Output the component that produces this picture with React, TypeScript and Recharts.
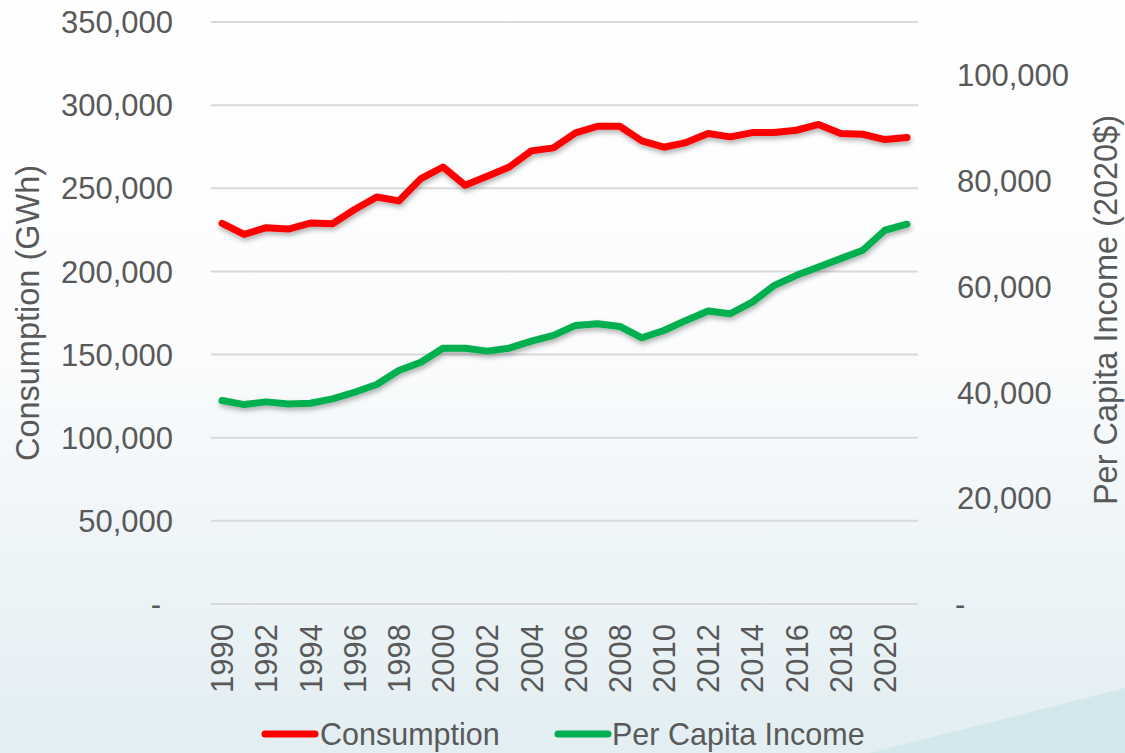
import { LineChart, Line, XAxis, YAxis, CartesianGrid } from 'recharts'

const years = [
  '1990', '1991', '1992', '1993', '1994', '1995', '1996', '1997', '1998', '1999',
  '2000', '2001', '2002', '2003', '2004', '2005', '2006', '2007', '2008', '2009',
  '2010', '2011', '2012', '2013', '2014', '2015', '2016', '2017', '2018', '2019',
  '2020', '2021',
]

// GWh
const consumption = [
  228900, 222300, 226300, 225500, 229100, 228700, 237200, 244800, 242400, 255800,
  262800, 251800, 257200, 262800, 272500, 274300, 283300, 287300, 287300, 278500,
  274700, 277500, 282900, 280900, 283500, 283500, 284900, 288400, 282900, 282500,
  279300, 280500,
]

// 2020$
const perCapitaIncome = [
  38450, 37690, 38200, 37820, 37940, 38770, 40020, 41480, 44130, 45700,
  48350, 48350, 47790, 48350, 49680, 50760, 52650, 52970, 52460, 50320,
  51700, 53600, 55360, 54860, 57060, 60230, 62120, 63700, 65280, 66860,
  70640, 71780,
]

const leftTicks = [0, 50000, 100000, 150000, 200000, 250000, 300000, 350000]
const rightTicks = [0, 20000, 40000, 60000, 80000, 100000]

const data = years.map((year, i) => ({
  year,
  consumption: consumption[i],
  income: perCapitaIncome[i],
}))

const FONT = '"Liberation Sans", Arial, sans-serif'
const TEXT = '#595959'
const RED = '#ff0000'
const GREEN = '#00b050'

const fmt = (v: number) => (v === 0 ? '-' : v.toLocaleString('en-US'))

const LeftTick = ({ y, payload }: any) => (
  <text
    x={payload.value === 0 ? 161 : 173}
    y={y}
    dy="0.36em"
    textAnchor="end"
    fill={TEXT}
    fontSize={31}
    fontFamily={FONT}
  >
    {fmt(payload.value)}
  </text>
)

const RightTick = ({ y, payload }: any) => (
  <text
    x={payload.value === 0 ? 955 : 957}
    y={y}
    dy="0.36em"
    textAnchor="start"
    fill={TEXT}
    fontSize={31}
    fontFamily={FONT}
  >
    {fmt(payload.value)}
  </text>
)

const YearTick = ({ x, payload }: any) => (
  <text
    transform={`translate(${x},624) rotate(-90)`}
    dy="0.36em"
    textAnchor="end"
    fill={TEXT}
    fontSize={31}
    fontFamily={FONT}
  >
    {payload.value}
  </text>
)

export default function App() {
  return (
    <div
      style={{
        position: 'absolute', left: 0, top: 0, width: 1125, height: 753, overflow: 'hidden',
        background: 'linear-gradient(to bottom, #ffffff 0%, #fbfcfd 45%, #e2eef2 100%)',
      }}
    >
      <svg width={1125} height={753} style={{ position: 'absolute', left: 0, top: 0 }}>
        <polygon points="870,753 1125,688 1125,753" fill="#d2e8ec" />
      </svg>
      <div style={{ position: 'absolute', left: 0, top: 0 }}>
        <LineChart width={1125} height={753} data={data} margin={{ top: 22, right: 0, bottom: 0, left: 0 }}>
          <defs>
            <filter id="lineShadow" x="-5%" y="-20%" width="110%" height="140%">
              <feDropShadow dx="1" dy="3" stdDeviation="2.5" floodColor="#000" floodOpacity="0.3" />
            </filter>
          </defs>
          <CartesianGrid yAxisId="left" vertical={false} stroke="#d9d9d9" strokeWidth={2} />
          <XAxis
            dataKey="year"
            scale="band"
            interval={1}
            axisLine={false}
            tickLine={false}
            height={149}
            tick={(p: any) => <YearTick {...p} />}
          />
          <YAxis
            yAxisId="left"
            orientation="left"
            width={211}
            domain={[0, 350000]}
            ticks={leftTicks}
            axisLine={false}
            tickLine={false}
            tick={(p: any) => <LeftTick {...p} />}
          />
          <YAxis
            yAxisId="right"
            orientation="right"
            width={207}
            domain={[0, 110000]}
            ticks={rightTicks}
            axisLine={false}
            tickLine={false}
            tick={(p: any) => <RightTick {...p} />}
          />
          <Line
            yAxisId="left"
            dataKey="consumption"
            stroke={RED}
            strokeWidth={7}
            strokeLinecap="round"
            strokeLinejoin="round"
            dot={false}
            type="linear"
            filter="url(#lineShadow)"
            isAnimationActive={false}
          />
          <Line
            yAxisId="right"
            dataKey="income"
            stroke={GREEN}
            strokeWidth={7}
            strokeLinecap="round"
            strokeLinejoin="round"
            dot={false}
            type="linear"
            filter="url(#lineShadow)"
            isAnimationActive={false}
          />
        </LineChart>
      </div>
      <svg width={1125} height={753} style={{ position: 'absolute', left: 0, top: 0, pointerEvents: 'none' }}>
        <text
          transform="translate(27,313) rotate(-90)"
          dy="0.36em"
          textAnchor="middle"
          fill={TEXT}
          fontSize={32.5}
          fontFamily={FONT}
        >
          Consumption (GWh)
        </text>
        <text
          transform="translate(1105,310) rotate(-90)"
          dy="0.36em"
          textAnchor="middle"
          fill={TEXT}
          fontSize={32.5}
          fontFamily={FONT}
        >
          Per Capita Income (2020$)
        </text>
        <line x1={265} y1={734} x2={315} y2={734} stroke={RED} strokeWidth={7} strokeLinecap="round" />
        <text x={320} y={734} dy="0.36em" fill={TEXT} fontSize={30.5} fontFamily={FONT}>
          Consumption
        </text>
        <line x1={558} y1={734} x2={608} y2={734} stroke={GREEN} strokeWidth={7} strokeLinecap="round" />
        <text x={612} y={734} dy="0.36em" fill={TEXT} fontSize={30.5} fontFamily={FONT}>
          Per Capita Income
        </text>
      </svg>
    </div>
  )
}
